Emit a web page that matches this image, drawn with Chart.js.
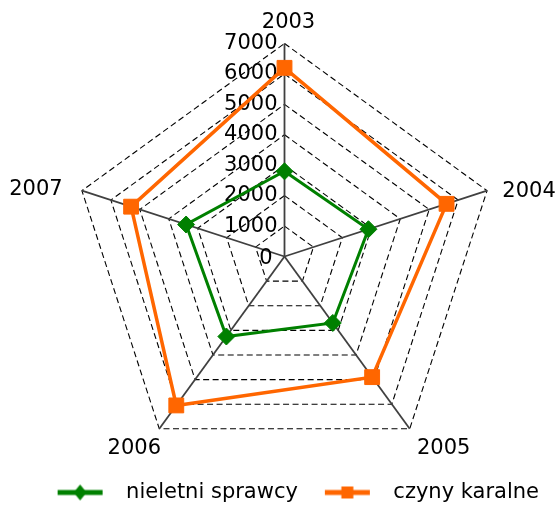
<!DOCTYPE html>
<html>
<head>
<meta charset="utf-8">
<script src="https://cdn.jsdelivr.net/npm/chart.js@4.4.1/dist/chart.umd.min.js"></script>
<style>
  html, body { margin: 0; padding: 0; background: #fff; }
</style>
</head>
<body>
<canvas id="radarChart" width="559" height="507"></canvas>
<script>
const years = ["2003", "2004", "2005", "2006", "2007"];
const nieletniSprawcy = [2800, 2900, 2700, 3250, 3400];
const czynyKaralne = [6200, 5600, 4900, 6050, 5300];
const tickValues = [0, 1000, 2000, 3000, 4000, 5000, 6000, 7000];

const GREEN = "#008000";
const ORANGE = "#ff6600";
const FONT = "'DejaVu Sans'";

// geometry of the web
const CENTER_X = 284.5;
const CENTER_Y = 256.5;
const RADIUS = 213;

// year labels sit a bit off the end of their axis
const labelOffsets = [[4, -21], [42, 1], [34, 20], [-25, 20], [-46, -1]];

// legend icon: short line with the marker in the middle
const legendIcon = (color, marker) => {
  const c = document.createElement("canvas");
  c.width = 65;
  c.height = 20;
  const ctx = c.getContext("2d");
  ctx.strokeStyle = color;
  ctx.fillStyle = color;
  ctx.lineWidth = 5;
  ctx.beginPath();
  ctx.moveTo(7, 10);
  ctx.lineTo(52, 10);
  ctx.stroke();
  ctx.beginPath();
  if (marker === "diamond") {
    ctx.moveTo(29.5, 2);
    ctx.lineTo(36, 10);
    ctx.lineTo(29.5, 18);
    ctx.lineTo(23, 10);
    ctx.closePath();
  } else {
    ctx.rect(23.5, 4, 12, 12);
  }
  ctx.fill();
  return c;
};
const icons = [legendIcon(GREEN, "diamond"), legendIcon(ORANGE, "square")];

// tick values on the first axis and year labels round the web
const radarText = {
  id: "radarText",
  beforeDatasetsDraw(chart) {
    const scale = chart.scales.r;
    const ctx = chart.ctx;
    ctx.save();
    ctx.fillStyle = "#000";
    ctx.textBaseline = "middle";
    ctx.font = `21px ${FONT}`;

    ctx.textAlign = "right";
    tickValues.forEach((v) => {
      const y = scale.yCenter - scale.getDistanceFromCenterForValue(v);
      if (v === 0) {
        ctx.fillText(String(v), scale.xCenter - 12, y + 2);
      } else {
        ctx.fillText(String(v), scale.xCenter - 7, y);
      }
    });

    ctx.textAlign = "center";
    years.forEach((year, i) => {
      const p = scale.getPointPosition(i, scale.drawingArea);
      ctx.fillText(year, p.x + labelOffsets[i][0], p.y + labelOffsets[i][1]);
    });
    ctx.restore();
  },
};

const ctx = document.getElementById("radarChart");

new Chart(ctx, {
  type: "radar",
  data: {
    labels: years,
    datasets: [
      {
        label: "nieletni sprawcy",
        data: nieletniSprawcy,
        borderColor: GREEN,
        backgroundColor: GREEN,
        borderWidth: 3,
        fill: false,
        pointStyle: "rectRot",
        pointRadius: 8.5,
        pointBorderWidth: 1,
        pointBackgroundColor: GREEN,
        pointBorderColor: GREEN,
      },
      {
        label: "czyny karalne",
        data: czynyKaralne,
        borderColor: ORANGE,
        backgroundColor: ORANGE,
        borderWidth: 3.5,
        fill: false,
        pointStyle: "rect",
        pointRadius: 10.5,
        pointBorderWidth: 1,
        pointBackgroundColor: ORANGE,
        pointBorderColor: ORANGE,
      },
    ],
  },
  options: {
    responsive: false,
    animation: false,
    devicePixelRatio: 1,
    layout: { padding: { top: 0, left: 0, right: 0, bottom: -6 } },
    scales: {
      r: {
        min: 0,
        max: 7000,
        ticks: { stepSize: 1000, display: false },
        grid: { color: "#000", lineWidth: 1.1 },
        border: { dash: [6, 3.5] },
        angleLines: { color: "#404040", lineWidth: 1.8 },
        pointLabels: { display: false },
        afterFit: (scale) => {
          scale.xCenter = CENTER_X;
          scale.yCenter = CENTER_Y;
          scale.drawingArea = RADIUS;
        },
      },
    },
    plugins: {
      tooltip: { enabled: false },
      legend: {
        position: "bottom",
        align: "end",
        labels: {
          usePointStyle: true,
          pointStyleWidth: 65,
          padding: 20,
          color: "#000",
          font: { family: "DejaVu Sans", size: 21 },
          generateLabels: (chart) => {
            const items = Chart.defaults.plugins.legend.labels.generateLabels(chart);
            items.forEach((item, i) => {
              item.pointStyle = icons[i];
            });
            return items;
          },
        },
      },
    },
  },
  plugins: [radarText],
});
</script>
</body>
</html>
